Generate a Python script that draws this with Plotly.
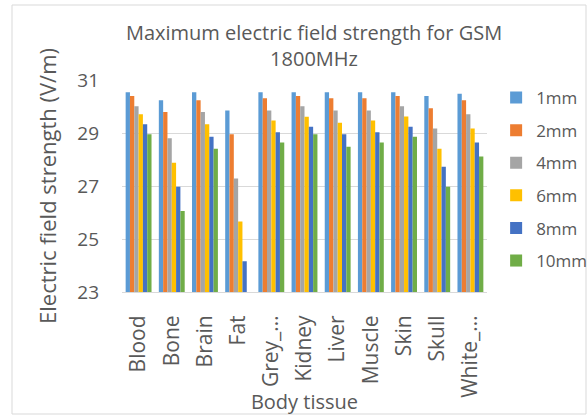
import plotly.graph_objects as go

tissues = ["Blood", "Bone", "Brain", "Fat", "Grey_…", "Kidney", "Liver", "Muscle", "Skin", "Skull", "White_…"]
series_names = ["1mm", "2mm", "4mm", "6mm", "8mm", "10mm"]

v1mm = [30.54, 30.24, 30.54, 29.85, 30.54, 30.54, 30.54, 30.54, 30.54, 30.40, 30.48]
v2mm = [30.40, 29.79, 30.24, 28.95, 30.31, 30.40, 30.31, 30.31, 30.40, 29.93, 30.24]
v4mm = [30.01, 28.80, 29.79, 27.28, 29.85, 30.01, 29.85, 29.85, 30.01, 29.17, 29.71]
v6mm = [29.71, 27.88, 29.33, 25.66, 29.47, 29.61, 29.39, 29.47, 29.62, 28.41, 29.17]
v8mm = [29.33, 26.97, 28.86, 24.16, 29.03, 29.24, 28.95, 29.03, 29.24, 27.73, 28.64]
v10mm = [28.95, 26.06, 28.41, None, 28.64, 28.95, 28.48, 28.64, 28.86, 26.97, 28.11]

colors = ["#5B9BD5", "#ED7D31", "#A5A5A5", "#FFC000", "#4472C4", "#70AD47"]
all_values = [v1mm, v2mm, v4mm, v6mm, v8mm, v10mm]

FONT = "Open Sans"
TXT = "#595959"

fig = go.Figure()
for name, vals, col in zip(series_names, all_values, colors):
    fig.add_trace(go.Bar(
        x=tissues, y=vals, name=name, marker_color=col,
        marker_line_width=0, legendgroup=name,
    ))

fig.update_layout(
    width=587, height=415,
    margin=dict(l=122, r=100, t=80, b=123, autoexpand=False),
    paper_bgcolor="white", plot_bgcolor="white",
    barmode="group", bargap=0.22, bargroupgap=0,
    font=dict(family=FONT, color=TXT, size=18),
    title=dict(
        text="Maximum electric field strength for GSM<br>1800MHz",
        x=0.535, xanchor="center", xref="container",
        y=1 - 40 / 415, yanchor="middle", yref="container",
        font=dict(family=FONT, size=20, color=TXT),
    ),
    legend=dict(
        x=1.025, xanchor="left", y=1.0, yanchor="top",
        font=dict(family=FONT, size=17, color=TXT),
        tracegroupgap=7.5, itemwidth=30,
        bgcolor="rgba(0,0,0,0)",
    ),
    showlegend=True,
)
fig.update_yaxes(
    range=[23, 31], tickvals=[23, 25, 27, 29, 31],
    showgrid=True, gridcolor="#D9D9D9", gridwidth=1,
    zeroline=False, showline=False,
    ticks="", ticklabelposition="outside",
    tickfont=dict(family=FONT, size=19, color=TXT),
    title=dict(text="Electric field strength (V/m)", standoff=14,
               font=dict(family=FONT, size=22, color=TXT)),
)
fig.update_xaxes(
    tickangle=-90, showline=True, linecolor="#D9D9D9", linewidth=1,
    ticks="", showgrid=False,
    tickfont=dict(family=FONT, size=21, color=TXT),
    ticklabelstandoff=14,
    title=dict(text="Body tissue", standoff=0,
               font=dict(family=FONT, size=20, color=TXT)),
)
# y tick labels drawn 22px left of the plot area, as in the reference
fig.update_yaxes(ticklabelstandoff=22)
# chart-area border
fig.add_shape(type="rect", xref="paper", yref="paper",
              x0=(12 - 122) / 365, x1=(586 - 122) / 365,
              y0=(292 - 414) / 212, y1=(292 - 5) / 212,
              line=dict(color="#D9D9D9", width=1), fillcolor="rgba(0,0,0,0)",
              layer="below")

fig.write_html("out.html")
